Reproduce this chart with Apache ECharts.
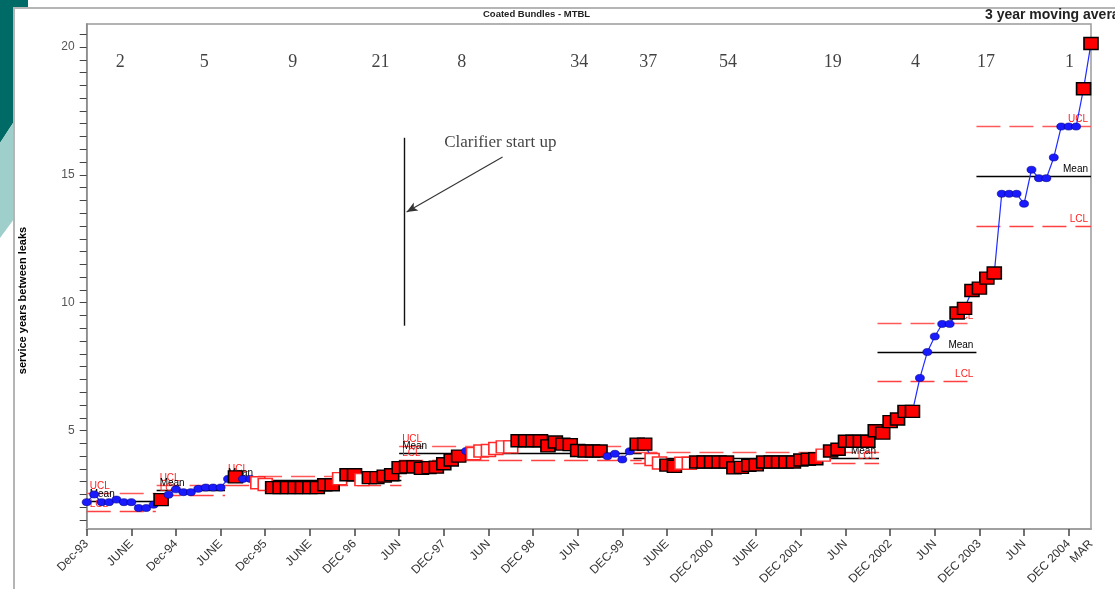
<!DOCTYPE html>
<html><head><meta charset="utf-8">
<script src="https://cdn.jsdelivr.net/npm/echarts@6/dist/echarts.min.js"></script>
<style>html,body{margin:0;padding:0;background:#fff;}#c{width:1115px;height:589px;}</style>
</head><body><div id="c"></div>
<script>
// ---- DATA ----
const xTickLabels = ['Dec-93','JUNE','Dec-94','JUNE','Dec-95','JUNE','DEC 96','JUN','DEC-97','JUN','DEC 98','JUN','DEC-99','JUNE','DEC 2000','JUNE','DEC 2001','JUN','DEC 2002','JUN','DEC 2003','JUN','DEC 2004'];
const endLabel = 'MAR';
const yTickLabels = [5, 10, 15, 20];

// 3 year moving average of service years between leaks, monthly from Dec-93 (index 0) to Mar-05
const serviceYears = [
 2.2,2.5,2.2,2.2,2.3,2.2,2.2,1.97,1.97,2.1,
 2.3,2.49,2.7,2.59,2.59,2.72,2.77,2.77,2.77,3.11,
 3.19,3.11,3.11,2.96,2.89,2.77,2.77,2.77,2.77,2.77,
 2.77,2.77,2.88,2.88,3.12,3.27,3.27,3.08,3.16,3.16,
 3.22,3.27,3.55,3.58,3.58,3.52,3.55,3.57,3.7,3.85,
 4.0,4.2,4.1,4.2,4.22,4.3,4.36,4.36,4.6,4.6,
 4.6,4.6,4.4,4.55,4.47,4.45,4.22,4.2,4.2,4.2,
 4.0,4.09,3.87,4.19,4.47,4.47,3.87,3.73,3.65,3.6,
 3.72,3.72,3.77,3.77,3.77,3.77,3.77,3.54,3.56,3.64,
 3.66,3.77,3.77,3.77,3.77,3.77,3.85,3.88,3.9,4.04,
 4.2,4.27,4.58,4.58,4.58,4.58,4.99,4.9,5.35,5.45,
 5.75,5.75,7.06,8.07,8.68,9.17,9.17,9.6,9.78,10.48,
 10.57,10.96,11.16,14.26,14.26,14.26,13.87,15.2,14.87,14.87,
 15.68,16.89,16.89,16.89,18.37,20.14
];
// F = filled red square, O = open red square, C = blue circle
const markerTypes = ('CCCCCCCCCC' + 'F' + 'CCCCCCCCC' + 'F' + 'CC' + 'OO' + 'FFFFFFFFF' + 'O' + 'FF' + 'O' +
  'FFFFFFFFFFFFF' + 'C' + 'OOOOOO' + 'FFFFFFFFFFFF' + 'CCCC' + 'FF' + 'OO' + 'FF' + 'OO' +
  'FFFFFFFFFFFFFFFFF' + 'O' + 'FFFFFFFFFFFF' + 'CCCCC' + 'FFFFFF' + 'CCCCCCCCCCC' + 'FF').split('');

// control-limit phases (months from Dec-93)
const phaseStart = [0, 9.4, 18.6, 42, 73.5, 106.3, 119.6];
const phaseEnd   = [9.3, 18.6, 42.3, 74.6, 106.5, 119.6, 135];
const uclValues  = [2.54, 2.85, 3.21, 4.39, 4.17, 9.18, 16.89];
const meanValues = [2.22, 2.66, 3.05, 4.13, 3.92, 8.06, 14.96];
const lclValues  = [1.85, 2.47, 2.88, 3.83, 3.72, 6.91, 12.98];
const labelAtEnd = [false, false, false, false, true, true, true];

// annual counts shown across the top
const countMonths = [4.5, 15.8, 27.7, 39.5, 50.4, 66.2, 75.5, 86.2, 100.3, 111.4, 120.9, 132.1];
const countValues = [2, 5, 9, 21, 8, 34, 37, 54, 19, 4, 17, 1];
const countLevel = 19.41;

// annotation
const clarifierText = 'Clarifier start up';
const clarifierTextPos = [55.6, 16.25];
const clarifierLine = [[42.7, 16.45], [42.7, 9.1]];
const clarifierArrow = [[55.9, 15.7], [43.0, 13.55]];

// ---- CHART ----
const FONT = '"Liberation Sans", Arial, sans-serif';
const SERIF = '"Liberation Serif", "Times New Roman", serif';

const pointData = serviceYears.map((v, i) => {
  const t = markerTypes[i];
  if (t === 'F') return {value: [i, v], symbol: 'rect', symbolSize: [14, 12],
    itemStyle: {color: '#ff0000', borderColor: '#000', borderWidth: 1.5}};
  if (t === 'O') return {value: [i, v], symbol: 'rect', symbolSize: [14, 12],
    itemStyle: {color: '#ffffff', borderColor: '#ff2a2a', borderWidth: 1.5}};
  return {value: [i, v], symbol: 'circle', symbolSize: [9, 7],
    itemStyle: {color: '#1a1aff', borderColor: '#000088', borderWidth: 0.6}};
});

const limitLines = [];
phaseStart.forEach((s, k) => {
  const e = phaseEnd[k];
  const pos = labelAtEnd[k] ? 'insideEndTop' : 'insideStartTop';
  [['UCL', uclValues[k], '#ff5a5a', [24, 9], '#ff2020'],
   ['Mean', meanValues[k], '#000000', 'solid', '#000000'],
   ['LCL', lclValues[k], '#ff4040', [24, 9], '#ff2020']].forEach(([name, val, col, type, lc]) => {
    limitLines.push([
      {coord: [s, val], lineStyle: {color: col, type: type, width: 1.3},
       label: {show: true, formatter: name, position: pos, color: lc, fontSize: 10, fontFamily: FONT, distance: [3, 2]}},
      {coord: [e, val]}
    ]);
  });
});

const yMinor = [];
for (let t = 1.5; t <= 20.5; t += 0.5) yMinor.push(t);

const option = {
  animation: false,
  backgroundColor: 'transparent',
  graphic: [
    {type: 'polygon', z: -20, silent: true, shape: {points: [[0,0],[28,0],[28,100],[0,143]]}, style: {fill: '#006b66'}},
    {type: 'polygon', z: -20, silent: true, shape: {points: [[0,143],[28,100],[28,200],[0,238]]}, style: {fill: '#9fcfcb'}},
    {type: 'rect', z: -19, silent: true, shape: {x: 14, y: 8, width: 1120, height: 600}, style: {fill: '#ffffff', stroke: '#b5b5b5', lineWidth: 2}}
  ],
  title: [
    {text: 'Coated Bundles - MTBL', left: 483, top: 9, padding: 0,
     textStyle: {fontSize: 9.5, fontWeight: 'bold', fontFamily: FONT, color: '#222'}},
    {text: '3 year moving average', left: 985, top: 8, padding: 0,
     textStyle: {fontSize: 14, fontWeight: 'bold', fontFamily: FONT, color: '#222'}}
  ],
  grid: {left: 86.7, right: 24, top: 24, bottom: 60, show: true, borderColor: '#9a9a9a', borderWidth: 1.5,
         backgroundColor: 'transparent', containLabel: false, outerBoundsMode: 'none'},
  xAxis: [{
    type: 'value', min: 0, max: 135, interval: 6, position: 'bottom',
    axisLine: {show: true, onZero: false, lineStyle: {color: '#a0a0a0', width: 2}},
    axisTick: {show: true, length: 7, lineStyle: {color: '#444', width: 1.5}},
    splitLine: {show: false},
    axisLabel: {rotate: 45, margin: 13, fontSize: 12, color: '#333', fontFamily: FONT,
      showMaxLabel: false, formatter: v => (xTickLabels[v / 6] !== undefined ? xTickLabels[v / 6] : '')}
  }, {
    type: 'value', min: 0, max: 135, interval: 135, position: 'bottom',
    axisLine: {show: false}, axisTick: {show: false}, splitLine: {show: false},
    axisLabel: {rotate: 45, margin: 13, fontSize: 12, color: '#333', fontFamily: FONT,
      showMinLabel: false, showMaxLabel: true, formatter: v => (v === 135 ? endLabel : '')}
  }],
  yAxis: {
    type: 'value', min: 1.15, max: 20.9,
    name: 'service years between leaks', nameLocation: 'middle', nameGap: 58, nameRotate: 90,
    nameTextStyle: {fontSize: 11, fontWeight: 'bold', fontFamily: FONT, color: '#000', padding: [0, 48, 0, 0]},
    axisLine: {show: true, lineStyle: {color: '#888', width: 1.5}},
    axisTick: {show: true, length: 7, lineStyle: {color: '#444'}, customValues: yMinor},
    axisLabel: {fontSize: 12, color: '#555', fontFamily: FONT, margin: 12, customValues: yTickLabels},
    splitLine: {show: false}
  },
  series: [
    {
      type: 'line', name: 'limits', data: [], silent: true,
      markLine: {silent: true, z: 1, symbol: ['none', 'none'], animation: false, data: limitLines}
    },
    {
      type: 'line', name: 'svc', z: 3, data: pointData, silent: true,
      lineStyle: {color: '#1f2bff', width: 1.2}, showSymbol: true, clip: false
    },
    {
      type: 'scatter', name: 'counts', silent: true, symbolSize: 1, itemStyle: {color: 'transparent'},
      data: countMonths.map((m, i) => ({value: [m, countLevel], name: String(countValues[i])})),
      label: {show: true, position: 'inside', formatter: p => p.name, fontFamily: SERIF, fontSize: 18, color: '#111'}
    },
    {
      type: 'scatter', name: 'annot', silent: true, symbolSize: 1, itemStyle: {color: 'transparent'},
      data: [{value: clarifierTextPos, name: clarifierText}],
      label: {show: true, position: 'inside', formatter: p => p.name, fontFamily: SERIF, fontSize: 17, color: '#111'},
      markLine: {
        silent: true, z: 6, symbol: ['none', 'none'], label: {show: false}, animation: false,
        data: [
          [{coord: clarifierLine[0], lineStyle: {color: '#111', width: 1.4, type: 'solid'}}, {coord: clarifierLine[1]}],
          [{coord: clarifierArrow[0], symbol: 'none', lineStyle: {color: '#333', width: 1.1, type: 'solid'}},
           {coord: clarifierArrow[1], symbol: 'arrow', symbolSize: [7, 11]}]
        ]
      }
    }
  ]
};
const chart = echarts.init(document.getElementById('c'), null, {renderer: 'canvas'});
chart.setOption(option);
</script>
</body></html>
